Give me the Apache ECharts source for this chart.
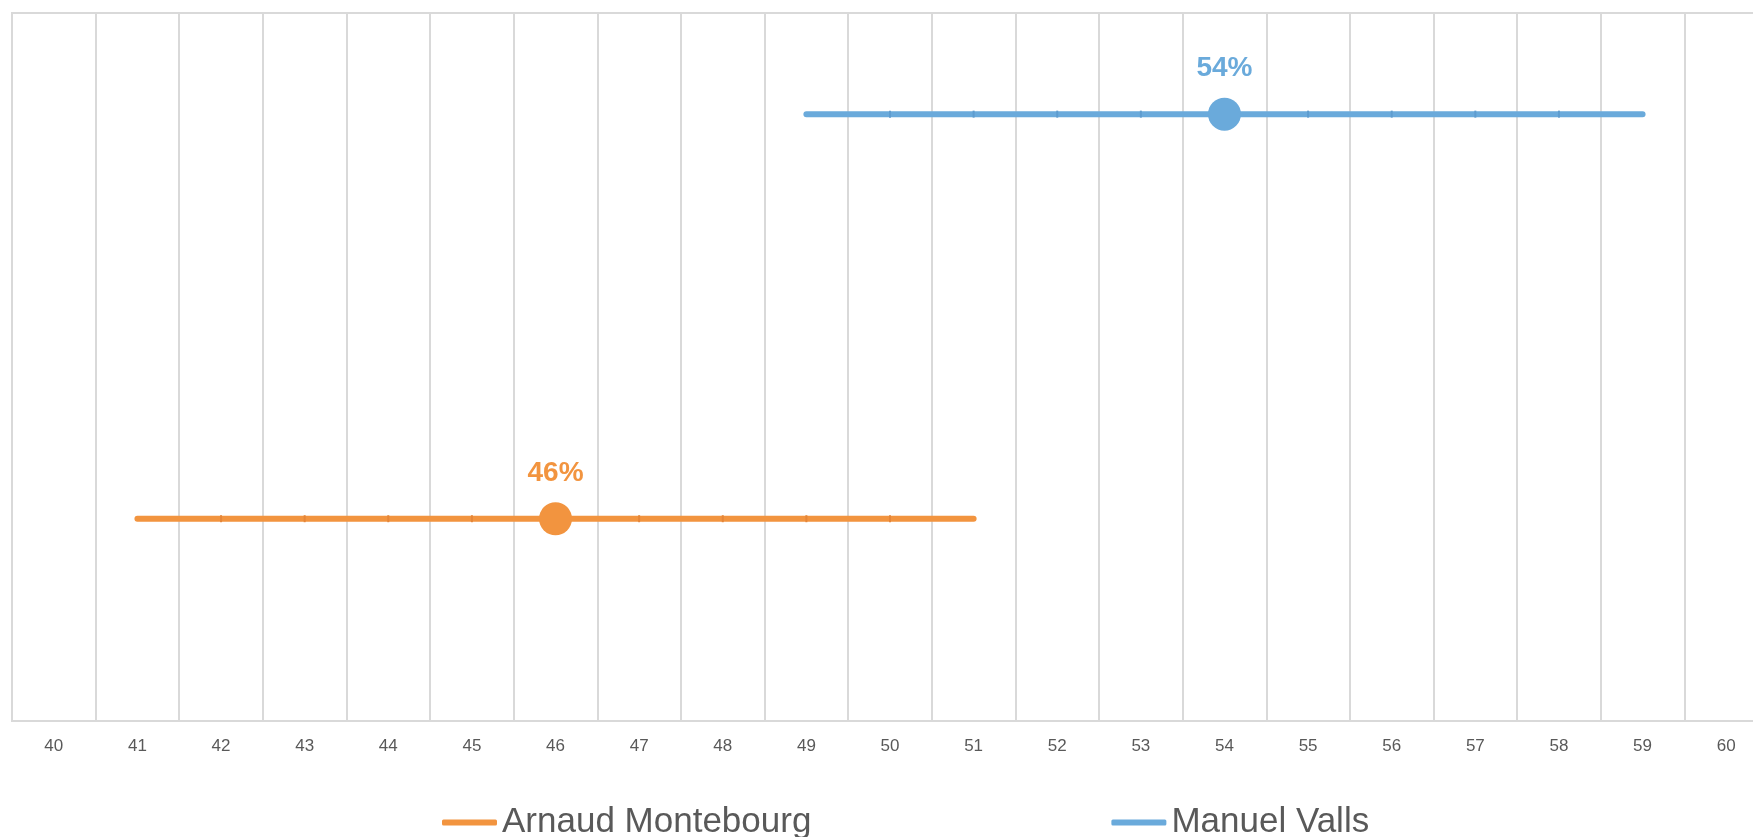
<!DOCTYPE html>
<html>
<head>
<meta charset="utf-8">
<title>Montebourg / Valls</title>
<script src="https://cdn.jsdelivr.net/npm/echarts@6/dist/echarts.min.js"></script>
<style>
  html, body { margin: 0; padding: 0; background: #fff; overflow: hidden; }
  #main { width: 1775px; height: 837px; }
</style>
</head>
<body>
<div id="main"></div>
<script>
// x axis categories (score, %)
const categories = ['40', '41', '42', '43', '44', '45', '46', '47', '48', '49', '50',
  '51', '52', '53', '54', '55', '56', '57', '58', '59', '60'];

// Arnaud Montebourg: range and central score
const montebourgRange = [41, 51];
const montebourgScore = 46;
const montebourgLevel = 0.5;

// Manuel Valls: range and central score
const vallsRange = [49, 59];
const vallsScore = 54;
const vallsLevel = 1.5;

const orange = '#F2943F';
const blue = '#6AAADB';

function buildData(range, score, level, color, tickColor) {
  return categories.map(c => {
    const v = Number(c);
    if (v < range[0] || v > range[1]) return null;
    if (v === score) {
      return {
        value: level,
        symbol: 'circle',
        symbolSize: 33,
        itemStyle: { color: color },
        label: {
          show: true,
          position: 'top',
          distance: 15,
          formatter: score + '%',
          color: color,
          fontSize: 28,
          fontWeight: 'bold',
          fontFamily: 'Liberation Sans'
        }
      };
    }
    // the ends of the range get no tick mark, only the round cap
    const isEnd = v === range[0] || v === range[1];
    return { value: level, symbolSize: isEnd ? 0 : [2, 7], itemStyle: { color: tickColor } };
  });
}

let myChart = echarts.init(document.getElementById('main'));
let option = {
  animation: false,
  textStyle: { fontFamily: 'Liberation Sans' },
  grid: {
    left: 12,
    top: 13,
    width: 1756,
    height: 708,
    show: true,
    borderColor: '#d9d9d9',
    borderWidth: 2,
    containLabel: false
  },
  legend: {
    left: 442,
    top: 805,
    padding: 0,
    icon: 'roundRect',
    itemWidth: 55,
    itemHeight: 6,
    itemGap: 300,
    textStyle: { fontSize: 35, color: '#595959', fontFamily: 'Liberation Sans' },
    data: ['Arnaud Montebourg', 'Manuel Valls']
  },
  xAxis: {
    type: 'category',
    data: categories,
    boundaryGap: true,
    axisLine: { lineStyle: { color: '#d9d9d9', width: 2 } },
    axisTick: { show: false },
    axisLabel: { color: '#595959', fontSize: 17, margin: 17, interval: 0 },
    splitLine: { show: true, interval: 0, lineStyle: { color: '#d9d9d9', width: 2 } }
  },
  yAxis: {
    type: 'value',
    min: 0,
    max: 1.75,
    show: false,
    splitLine: { show: false }
  },
  series: [
    {
      name: 'Arnaud Montebourg',
      type: 'line',
      data: buildData(montebourgRange, montebourgScore, montebourgLevel, orange, '#E58638'),
      color: orange,
      symbol: 'rect',
      symbolSize: [2, 7],
      showSymbol: true,
      lineStyle: { color: orange, width: 6, cap: 'round' },
      itemStyle: { color: orange },
      z: 3
    },
    {
      name: 'Manuel Valls',
      type: 'line',
      data: buildData(vallsRange, vallsScore, vallsLevel, blue, '#5E9CCF'),
      color: blue,
      symbol: 'rect',
      symbolSize: [2, 7],
      showSymbol: true,
      lineStyle: { color: blue, width: 6, cap: 'round' },
      itemStyle: { color: blue },
      z: 3
    }
  ]
};
myChart.setOption(option);
</script>
</body>
</html>
